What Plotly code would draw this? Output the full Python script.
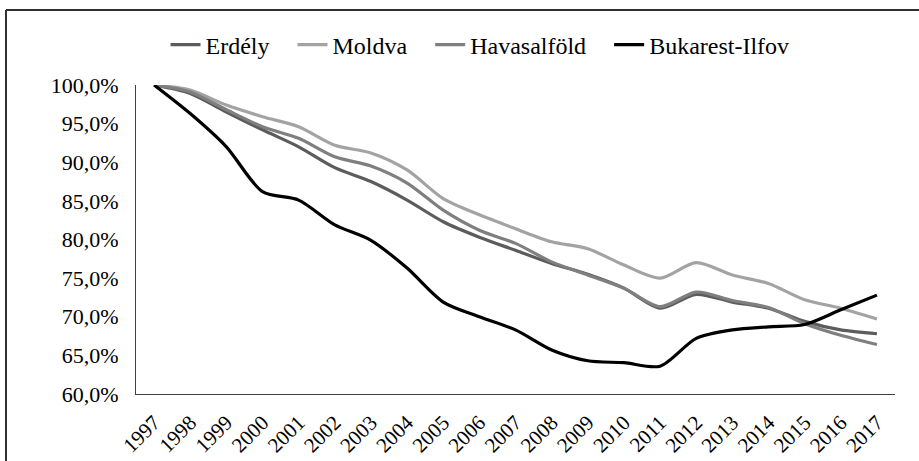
import plotly.graph_objects as go

years = [str(y) for y in range(1997, 2018)]

erdely = [100.0, 98.9, 96.5, 94.2, 92.0, 89.3, 87.5, 85.1, 82.3, 80.3, 78.6, 76.9, 75.5,
          73.7, 71.1, 72.9, 71.9, 71.1, 69.4, 68.3, 67.8]
moldva = [100.0, 99.35, 97.4, 95.9, 94.6, 92.2, 91.2, 89.0, 85.3, 83.2, 81.4, 79.7, 78.8,
          76.7, 75.0, 77.0, 75.4, 74.3, 72.2, 71.1, 69.7]
havasalfold = [100.0, 99.1, 96.8, 94.6, 93.1, 90.7, 89.5, 87.3, 83.8, 81.2, 79.5, 77.1, 75.4,
               73.7, 71.3, 73.2, 72.1, 71.2, 69.1, 67.6, 66.4]
bukarest = [100.0, 96.3, 92.0, 86.2, 85.1, 81.9, 79.9, 76.3, 71.9, 70.0, 68.3, 65.7, 64.3,
            64.05, 63.6, 67.2, 68.3, 68.7, 69.0, 70.9, 72.8]

series_names = ["Erdély", "Moldva", "Havasalföld", "Bukarest-Ilfov"]
series_values = [erdely, moldva, havasalfold, bukarest]
series_colors = ["#5c5c5c", "#a3a3a3", "#7f7f7f", "#000000"]

y_ticks = [60, 65, 70, 75, 80, 85, 90, 95, 100]
y_ticktext = [f"{v:.1f}%".replace(".", ",") for v in y_ticks]

FONT = "Liberation Serif, Times New Roman, serif"
PAD = "\u00a0\u00a0\u00a0"

fig = go.Figure()
for i, (name, vals, col) in enumerate(zip(series_names, series_values, series_colors)):
    label = name + (PAD if i < len(series_names) - 1 else "")
    fig.add_trace(go.Scatter(
        x=years, y=vals, name=label, mode="lines",
        line=dict(color=col, width=3.2, shape="spline", smoothing=0.8),
    ))

# Plot area in pixels: x 136..895, y 85..394
W, H = 919, 461
L, R, T, B = 136, 895, 85, 394
pw, ph = R - L, B - T


def px(x):
    return (x - L) / pw


def py(y):
    return (B - y) / ph


fig.update_layout(
    width=W, height=H,
    margin=dict(l=L, r=W - R, t=T, b=H - B, pad=0),
    paper_bgcolor="white", plot_bgcolor="white",
    font=dict(family=FONT, size=20, color="#000000"),
    showlegend=True,
    legend=dict(orientation="h", x=px(480), xanchor="center", y=py(45), yanchor="middle",
                font=dict(family=FONT, size=24, color="#000000"),
                bgcolor="rgba(0,0,0,0)", itemwidth=30, tracegroupgap=0),
    xaxis=dict(type="category", range=[-0.5, 20.5], showgrid=False, zeroline=False,
               showline=True, linecolor="#404040", linewidth=1,
               ticks="", tickangle=-45, automargin=False,
               tickfont=dict(family=FONT, size=21, color="#000000"),
               ticklabelstandoff=7),
    yaxis=dict(range=[60, 100], showgrid=False, zeroline=False,
               showline=True, linecolor="#404040", linewidth=1,
               tickvals=y_ticks, ticktext=y_ticktext, ticks="", automargin=False,
               tickfont=dict(family=FONT, size=22, color="#000000"),
               ticklabelstandoff=12),
    shapes=[
        dict(type="line", xref="paper", yref="paper", x0=px(6), x1=px(925), y0=py(10), y1=py(10),
             line=dict(color="#303030", width=2)),
        dict(type="line", xref="paper", yref="paper", x0=px(6), x1=px(6), y0=py(10), y1=py(470),
             line=dict(color="#303030", width=2)),
    ],
)

fig.write_html("out.html", config={"displayModeBar": False},
               post_script="document.body.style.margin='0';")
